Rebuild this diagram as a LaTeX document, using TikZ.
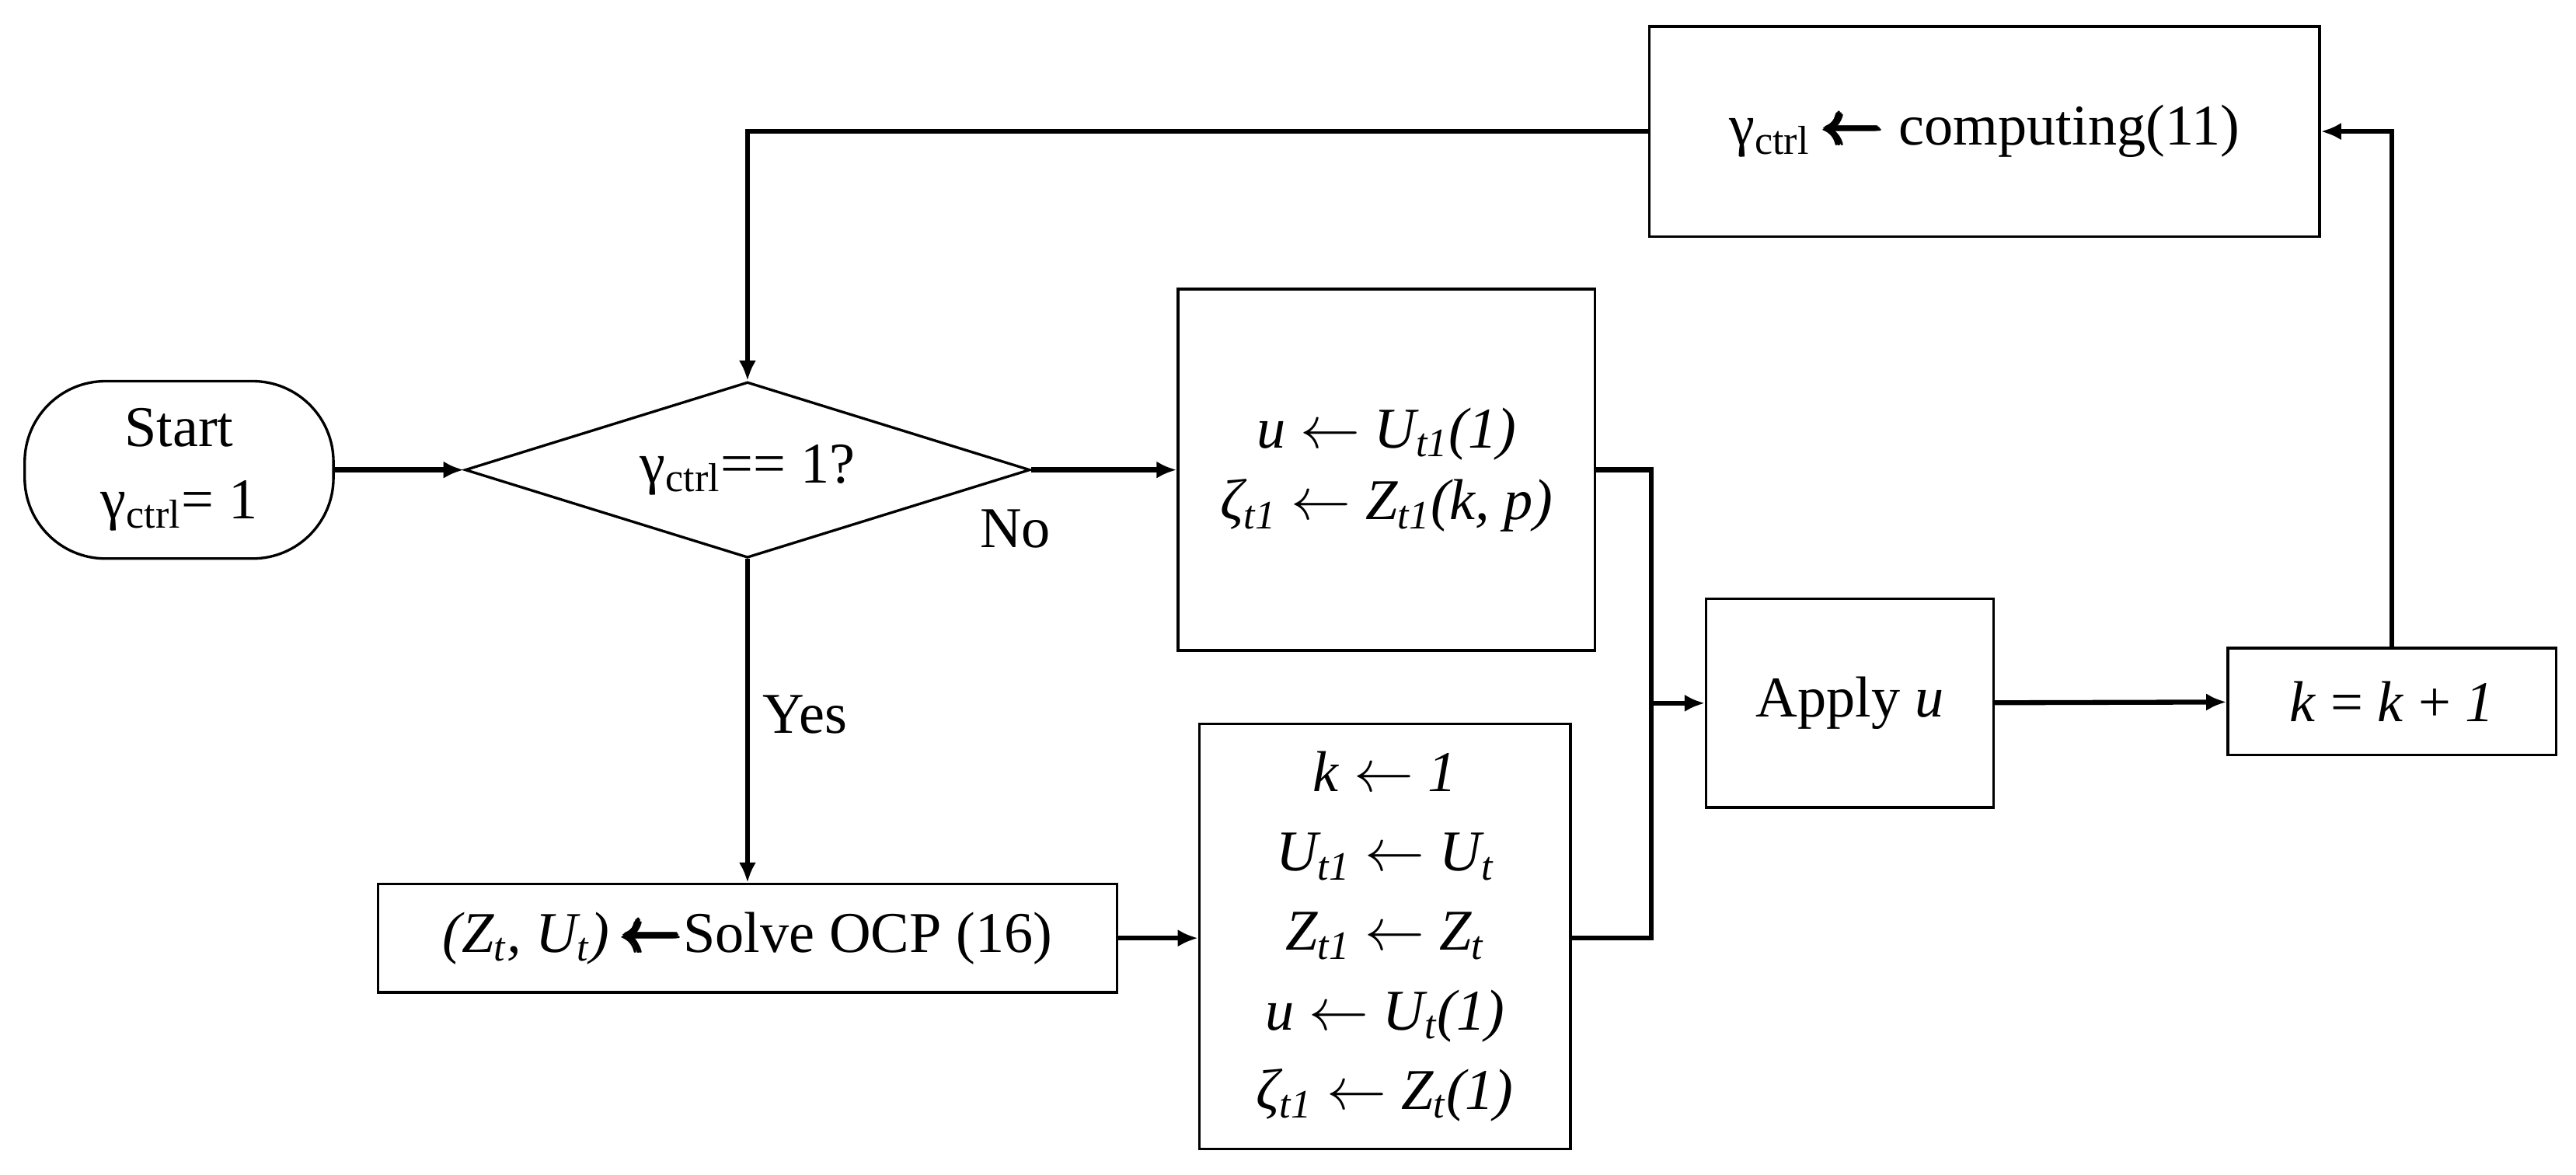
\documentclass[tikz,border=0pt]{standalone}
\usepackage{amsmath}
\usepackage{fontspec}
\setmainfont{Liberation Serif}
\usetikzlibrary{shapes.geometric,arrows.meta}
\newcommand{\thickarr}{$\pmb{\pmb{\leftarrow}}$}
\begin{document}
\begin{tikzpicture}[x=0.02cm,y=-0.02cm,
  box/.style={draw,line width=0.9pt,inner sep=0pt,align=center,font=\fontsize{20}{25}\selectfont},
  lbl/.style={font=\fontsize{20}{25}\selectfont},
  con/.style={line width=1.7pt,-{Latex[length=7pt,width=6pt]}},
  ln/.style={line width=1.7pt}]
\useasboundingbox (0,0) rectangle (1568,715);
\node[box,rounded corners=28pt,minimum width=3.76cm,minimum height=2.16cm] (start) at (109,286) {Start\\γ\textsubscript{ctrl}= 1};
\node[box,diamond,aspect=3.2,minimum width=6.88cm,minimum height=2.14cm] (dec) at (455,286) {γ\textsubscript{ctrl}== 1?};
\node[box,minimum width=5.08cm,minimum height=4.4cm] (ubox) at (844,286) {\textit{u} $\leftarrow$ \textit{U\textsubscript{t1}(1)}\\\textit{ζ\textsubscript{t1}} $\leftarrow$ \textit{Z\textsubscript{t1}(k, p)}};
\node[box,minimum width=9cm,minimum height=1.32cm] (solve) at (455,571) {\textit{(Z\textsubscript{t}, U\textsubscript{t})} \thickarr Solve OCP (16)};
\node[box,minimum width=4.52cm,minimum height=5.18cm,font=\fontsize{20}{27.5}\selectfont] (kbox) at (843,570) {\textit{k} $\leftarrow$ \textit{1}\\\textit{U\textsubscript{t1}} $\leftarrow$ \textit{U\textsubscript{t}}\\\textit{Z\textsubscript{t1}} $\leftarrow$ \textit{Z\textsubscript{t}}\\\textit{u} $\leftarrow$ \textit{U\textsubscript{t}(1)}\\\textit{ζ\textsubscript{t1}} $\leftarrow$ \textit{Z\textsubscript{t}(1)}};
\node[box,minimum width=3.5cm,minimum height=2.54cm] (apply) at (1126,428) {Apply \textit{u}};
\node[box,minimum width=4cm,minimum height=1.3cm] (inc) at (1456,427) {\textit{k} = \textit{k} + \textit{1}};
\node[box,minimum width=8.16cm,minimum height=2.56cm] (gam) at (1208,80) {γ\textsubscript{ctrl} \thickarr{} computing(11)};
\coordinate (j) at (1005,428);
\draw[con] (start) -- (dec);
\draw[con] (dec) -- (ubox);
\node[lbl] (no) at (618,322) {No};
\draw[con] (dec) -- (solve);
\node[lbl] (yes) at (490,435) {Yes};
\draw[con] (solve) -- (kbox.west |- solve);
\draw[ln] (ubox.east) -| (j);
\draw[ln] (kbox.east |- solve) -| (j);
\draw[con] (j) -- (apply);
\draw[con] (apply) -- (inc);
\draw[con] (inc.north) |- (gam.east);
\draw[con] (gam.west) -| (dec.north);
\end{tikzpicture}
\end{document}
